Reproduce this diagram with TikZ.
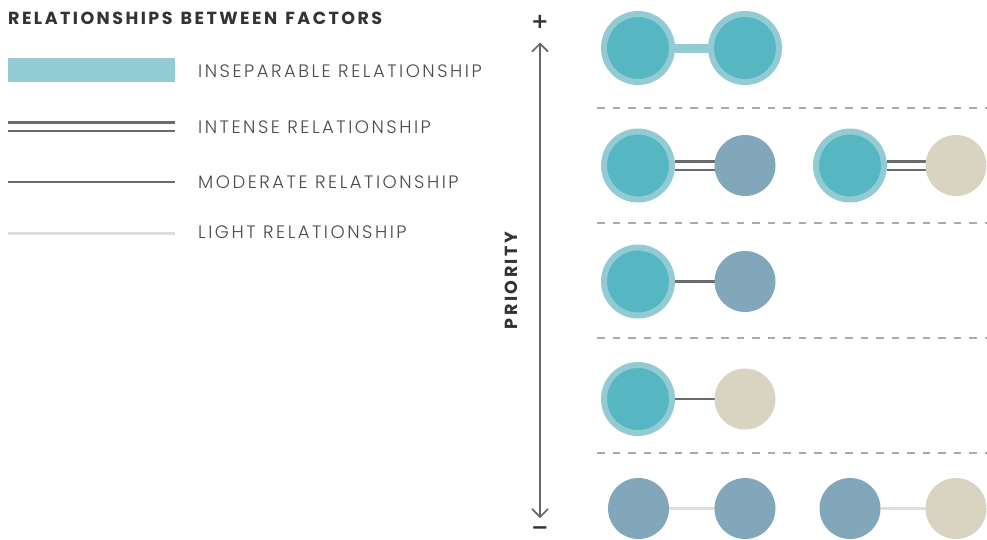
\documentclass[tikz,border=0pt]{standalone}
\usepackage{fontspec}
\setmainfont{Poppins}[LetterSpace=14]
\IfFontExistsTF{Poppins Light}{\newfontfamily\legfont{Poppins Light}[LetterSpace=14]}{\newfontfamily\legfont{Poppins}[LetterSpace=14]}
\newfontfamily\symfont{DejaVu Sans}
\usetikzlibrary{arrows.meta,backgrounds}
\definecolor{sepout}{HTML}{92CBD4}
\definecolor{sepin}{HTML}{56B6C2}
\definecolor{bluef}{HTML}{82A6BA}
\definecolor{beigef}{HTML}{D9D4C2}
\definecolor{linegray}{HTML}{6B6B6B}
\definecolor{lightl}{HTML}{DEDEDE}
\definecolor{txt}{HTML}{4A4A4A}
\definecolor{titlec}{HTML}{333333}
\definecolor{dashc}{HTML}{AAAAAA}
\definecolor{axisc}{HTML}{666666}
\tikzset{
  insep/.style={circle, fill=sepin, draw=sepout, line width=6pt, minimum size=68pt, inner sep=0pt},
  bluec/.style={circle, fill=bluef, minimum size=61pt, inner sep=0pt, outer sep=0pt},
  beigec/.style={circle, fill=beigef, minimum size=61pt, inner sep=0pt, outer sep=0pt},
  insepline/.style={draw=sepout, line width=9pt},
  intenseline/.style={draw=linegray, line width=2.6pt, double=white, double distance=6pt},
  moderateline/.style={draw=linegray, line width=2.8pt},
  lightline/.style={draw=lightl, line width=3pt},
  legtext/.style={anchor=base west, inner sep=0pt, text=txt, font=\legfont\fontsize{18}{19}\selectfont},
  sepline/.style={draw=dashc, line width=1.6pt, dash pattern=on 7.5pt off 8pt},
  axisline/.style={draw=axisc, line width=1.6pt},
  signtext/.style={inner sep=0pt, text=titlec, font=\symfont\bfseries\fontsize{21}{21}\selectfont},
}
\begin{document}
\begin{tikzpicture}[x=1pt,y=-1pt]
\useasboundingbox (0,0) rectangle (987,539);
% title
\node[anchor=base west, inner sep=0pt, text=titlec, font=\bfseries\fontsize{17.5}{19}\selectfont] (title) at (8,24) {RELATIONSHIPS\hspace{2pt} BETWEEN\hspace{2pt} FACTORS};
% legend
\node[anchor=north west, fill=sepout, minimum width=167pt, minimum height=24pt, inner sep=0pt, outer sep=0pt] (leg1) at (8,58) {};
\node[legtext] (lt1) at (198,77) {INSEPARABLE RELATIONSHIP};
\draw[intenseline] (8,126.5) -- (175,126.5);
\node[legtext] (lt2) at (198,133) {INTENSE RELATIONSHIP};
\draw[moderateline] (8,182) -- (175,182);
\node[legtext] (lt3) at (198,188) {MODERATE RELATIONSHIP};
\draw[lightline] (8,233) -- (175,233);
\node[legtext] (lt4) at (198,238) {LIGHT RELATIONSHIP};
% axis
\node[signtext] (plus) at (540,22) {+};
\node[signtext] (minus) at (540,531) {−};
\coordinate (atop) at (540,42.5);
\coordinate (abot) at (540,518);
\draw[axisline, {Straight Barb[length=8pt,width=16pt]}-{Straight Barb[length=8pt,width=16pt]}] (atop) -- (abot);
\node[rotate=90, inner sep=0pt, text=titlec, font=\bfseries\fontsize{17.5}{19}\selectfont] (prio) at (511.5,280.5) {PRIORITY};
% separators
\foreach \yy in {108,223,338,453} \draw[sepline] (597,\yy) -- (987,\yy);
% rows
\node[insep] (a1) at (638,48) {};
\node[insep] (b1) at (745,48) {};
\node[insep] (a2) at (638,165.5) {};
\node[bluec] (b2) at (745,165.5) {};
\node[insep] (c2) at (850,165.5) {};
\node[beigec] (d2) at (956,165.5) {};
\node[insep] (a3) at (638,281.5) {};
\node[bluec] (b3) at (745,281.5) {};
\node[insep] (a4) at (638,399) {};
\node[beigec] (b4) at (745,399) {};
\node[bluec] (a5) at (638.5,508.5) {};
\node[bluec] (b5) at (745,508.5) {};
\node[bluec] (c5) at (850,508.5) {};
\node[beigec] (d5) at (956,508.5) {};
\begin{scope}[on background layer]
\draw[insepline] (a1) -- (b1);
\draw[intenseline] (a2) -- (b2);
\draw[intenseline] (c2) -- (d2);
\draw[moderateline] (a3) -- (b3);
\draw[moderateline] (a4) -- (b4);
\draw[lightline] (a5) -- (b5);
\draw[lightline] (c5) -- (d5);
\end{scope}
\end{tikzpicture}
\end{document}
